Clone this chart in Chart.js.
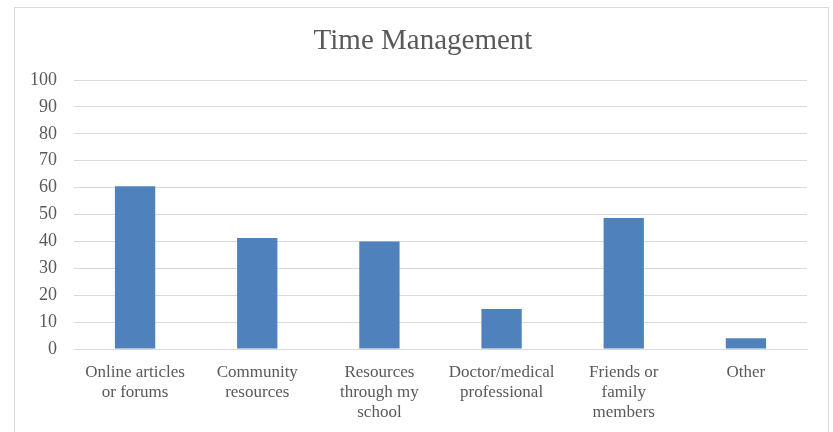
<!DOCTYPE html>
<html>
<head>
<meta charset="utf-8">
<script src="https://cdn.jsdelivr.net/npm/chart.js@4/dist/chart.umd.min.js"></script>
<style>
  html, body { margin: 0; padding: 0; background: #fff; }
  #wrap { width: 833px; height: 432px; }
</style>
</head>
<body>
<div id="wrap"><canvas id="barChart" width="833" height="432"></canvas></div>
<script>
// Daten
const categories = [
    ['Online articles', 'or forums'],
    ['Community', 'resources'],
    ['Resources', 'through my', 'school'],
    ['Doctor/medical', 'professional'],
    ['Friends or', 'family', 'members'],
    ['Other']
];
const values = [60.5, 41.3, 40, 14.9, 48.7, 4];
const yTicks = [0, 10, 20, 30, 40, 50, 60, 70, 80, 90, 100];
const chartTitle = 'Time Management';

const textColor = '#595959';
const gridColor = '#d9d9d9';
const serif = "'Liberation Serif', 'DejaVu Serif', serif";

// Rahmen und Titel wie im Excel-Diagramm
const framePlugin = {
    id: 'frame',
    beforeDraw(chart) {
        const ctx = chart.ctx;
        ctx.save();
        ctx.strokeStyle = gridColor;
        ctx.lineWidth = 1;
        ctx.strokeRect(14.5, 7.5, 814, 500);
        ctx.fillStyle = textColor;
        ctx.font = '29px ' + serif;
        ctx.textAlign = 'center';
        ctx.textBaseline = 'middle';
        ctx.fillText(chartTitle, 423, 41);
        ctx.restore();
    }
};

var ctxBar = document.getElementById('barChart').getContext('2d');
var barChart = new Chart(ctxBar, {
    type: 'bar',
    data: {
        labels: categories,
        datasets: [{
            label: chartTitle,
            data: values,
            backgroundColor: '#4f81bd',
            barPercentage: 0.33,
            categoryPercentage: 1.0
        }]
    },
    options: {
        responsive: false,
        animation: false,
        layout: { padding: { left: 0, right: 26, top: 80, bottom: 0 } },
        plugins: {
            legend: { display: false },
            title: { display: false },
            tooltip: { enabled: false }
        },
        scales: {
            x: {
                grid: { display: false, drawTicks: false },
                border: { color: gridColor, width: 1 },
                ticks: {
                    color: textColor,
                    font: { family: serif, size: 17, lineHeight: 1.16 },
                    maxRotation: 0,
                    autoSkip: false,
                    padding: 14
                },
                afterFit: scale => { scale.height = 83; }
            },
            y: {
                min: 0,
                max: 100,
                grid: { color: gridColor, lineWidth: 1, drawTicks: false },
                border: { display: false },
                afterBuildTicks: scale => {
                    scale.ticks = yTicks.map(v => ({ value: v }));
                },
                ticks: {
                    color: textColor,
                    font: { family: serif, size: 18 },
                    padding: 17
                },
                afterFit: scale => { scale.width = 74; }
            }
        }
    },
    plugins: [framePlugin]
});
</script>
</body>
</html>
